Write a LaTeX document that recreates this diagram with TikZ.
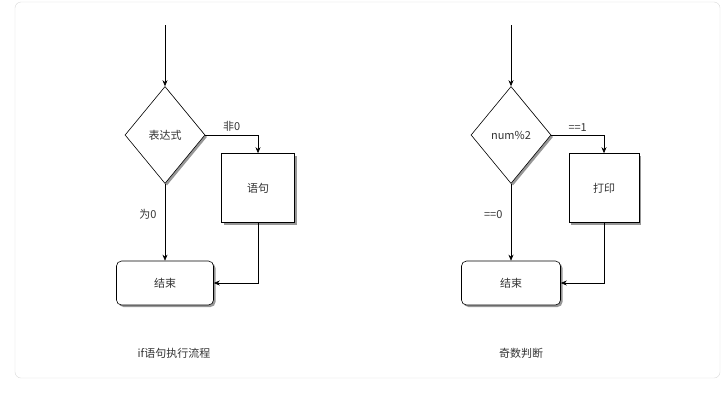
\documentclass[tikz,border=0pt]{standalone}
\usepackage{fontspec}
\setmainfont{Noto Sans CJK SC}
\usepackage{tikz}
\usetikzlibrary{positioning,arrows.meta,shapes.geometric,shadows}

\tikzset{
  shade/.style={drop shadow={shadow xshift=2pt, shadow yshift=-2pt, fill=black!45, opacity=0.9}},
  cond/.style={diamond, draw, semithick, fill=white, shade, minimum width=80pt, minimum height=97pt, inner sep=0pt},
  stmt/.style={rectangle, draw, semithick, fill=white, shade, minimum width=73pt, minimum height=69pt},
  stopbox/.style={rectangle, rounded corners=5pt, draw, semithick, fill=white, shade, minimum width=97pt, minimum height=44pt},
  flow/.style={-{Stealth[length=6pt, width=5pt]}, semithick},
  lbl/.style={text=black!80},
}

\begin{document}
\begin{tikzpicture}[x=1pt, y=-1pt, font=\fontsize{11}{13}\selectfont, text=black!80]
\useasboundingbox (0,0) rectangle (727,408);
% ---- outer frame ----
\draw[black!15, rounded corners=6pt] (15,2) rectangle (720,378);
% ---- left panel: if statement ----
\coordinate (in1) at (165,25);
\node[cond] (expr) at (165,135) {表达式};
\node[stmt] (stmt1) at (258,188) {语句};
\node[stopbox] (end1) at (165,283) {结束};
\draw[flow] (in1) -- (expr.north);
\draw[flow] (expr.east) -| node[pos=0.25, above, lbl] {非0} (stmt1.north);
\draw[flow] (expr.south) -- node[pos=0.4, left=5pt, lbl] {为0} (end1.north);
\draw[flow] (stmt1.south) |- (end1.east);
\node (cap1) at (174,353) {if语句执行流程};
% ---- right panel: odd test ----
\coordinate (in2) at (511,25);
\node[cond] (mod) at (511,135) {num\%2};
\node[stmt, minimum width=70pt] (print) at (604,188) {打印};
\node[stopbox, minimum width=99pt] (end2) at (511,283) {结束};
\draw[flow] (in2) -- (mod.north);
\draw[flow] (mod.east) -| node[pos=0.25, above, lbl] {==1} (print.north);
\draw[flow] (mod.south) -- node[pos=0.4, left=5pt, lbl] {==0} (end2.north);
\draw[flow] (print.south) |- (end2.east);
\node (cap2) at (521,353) {奇数判断};
\end{tikzpicture}
\end{document}
